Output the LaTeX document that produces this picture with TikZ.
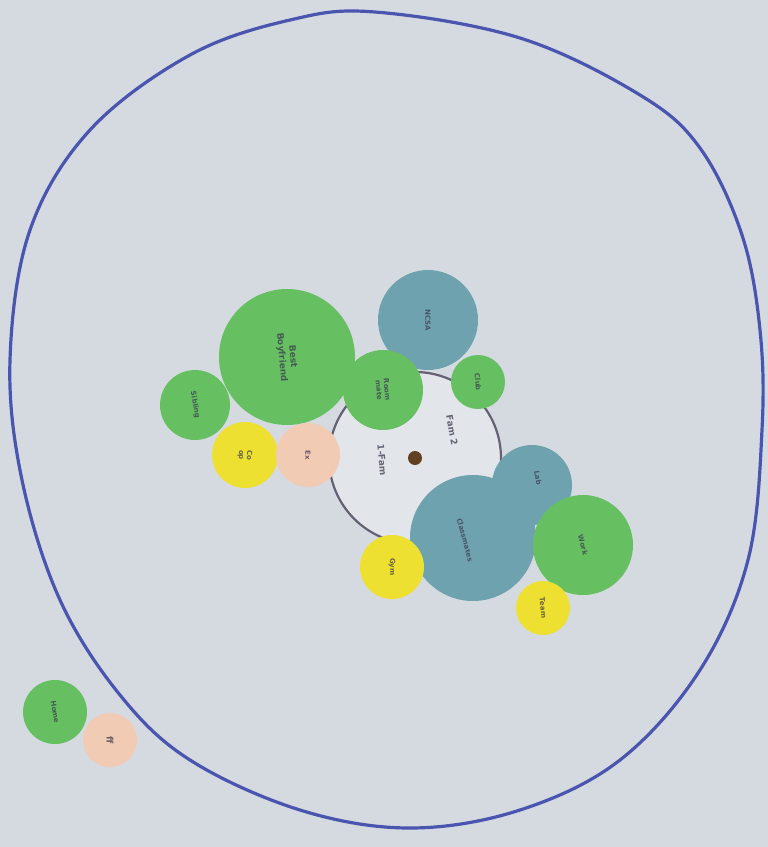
\documentclass[tikz,border=0pt]{standalone}
\usepackage{fontspec}
\setmainfont{DejaVu Sans}
\definecolor{paper}{HTML}{D5DAE0}
\definecolor{ink}{HTML}{4A55B0}
\definecolor{felt}{HTML}{66C062}
\definecolor{feltblue}{HTML}{6EA2AE}
\definecolor{feltyel}{HTML}{EEE030}
\definecolor{feltpeach}{HTML}{F2CBB4}
\definecolor{pen}{HTML}{3C3A50}
\begin{document}
\begin{tikzpicture}[x=1pt,y=-1pt,
  disc/.style={circle,inner sep=0pt,minimum size=#1},
  g/.style={fill=felt},
  b/.style={fill=feltblue},
  yl/.style={fill=feltyel},
  pc/.style={fill=feltpeach},
  lab/.style={text=pen,font=\scriptsize\bfseries,opacity=0.75,inner sep=1pt}]
\fill[paper] (0,0) rectangle (768,847);
\useasboundingbox (0,0) rectangle (768,847);
% outer hand-drawn circle
\draw[ink,line width=3.2pt,line join=round] plot[smooth cycle,tension=0.6] coordinates {
 (375,12) (520,38) (640,95) (700,148) (742,235) (760,330) (762,430) (748,560)
 (700,670) (620,760) (520,810) (410,828) (300,810) (190,760) (120,695)
 (60,600) (22,480) (10,360) (30,230) (90,130) (190,55) (290,20)};
% inner circle
\node[disc=172pt,draw=pen!80,line width=2.2pt,fill=white!30!paper] (ego) at (415,458) {};
\fill[brown!50!black] (415,458) circle (7);
\node[lab,rotate=-85,font=\small\bfseries] (fam1) at (382,460) {1-Fam};
\node[lab,rotate=-80,font=\small\bfseries] (fam2) at (452,430) {Fam 2};
% felt circles
\node[disc=100pt,b] (ncsa) at (428,320) {};
\node[lab,rotate=-90] at (ncsa) {NCSA};
\node[disc=70pt,g] (left) at (195,405) {};
\node[lab,rotate=-80] at (left) {Sibling};
\node[disc=136pt,g] (bf) at (287,357) {};
\node[lab,rotate=-85,font=\small\bfseries,align=center] at (bf) {Best\\Boyfriend};
\node[disc=80pt,g] (mid) at (383,390) {};
\node[lab,rotate=-85,align=center] at (mid) {Room\\mate};
\node[disc=54pt,g] (sg) at (478,382) {};
\node[lab,rotate=-85] at (sg) {Club};
\node[disc=66pt,yl] (y1) at (245,455) {};
\node[lab,rotate=-90,align=center] at (y1) {Co\\op};
\node[disc=64pt,pc] (p1) at (308,455) {};
\node[lab,rotate=-90] at (p1) {Ex};
\node[disc=80pt,b] (bs) at (532,485) {};
\node[lab,rotate=-80] at (538,478) {Lab};
\node[disc=126pt,b] (bb) at (473,538) {};
\node[lab,rotate=-75] at (465,540) {Classmates};
\node[disc=100pt,g] (gr) at (583,545) {};
\node[lab,rotate=-75] at (gr) {Work};
\node[disc=64pt,yl] (y2) at (392,567) {};
\node[lab,rotate=-90] at (y2) {Gym};
\node[disc=54pt,yl] (y3) at (543,608) {};
\node[lab,rotate=-85] at (y3) {Team};
\node[disc=64pt,g] (gf) at (55,712) {};
\node[lab,rotate=-80] at (gf) {Home};
\node[disc=54pt,pc] (pf) at (110,740) {};
\node[lab,rotate=-90,font=\small\bfseries] at (pf) {ff};
\end{tikzpicture}
\end{document}
